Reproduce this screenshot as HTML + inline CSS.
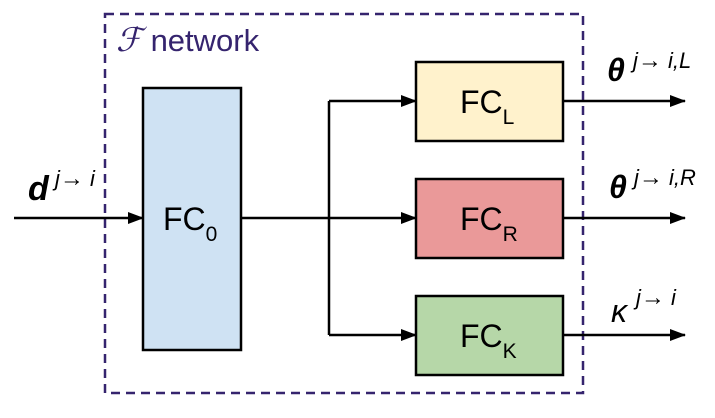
<!DOCTYPE html>
<html><head><style>body{margin:0;background:#fff}</style></head><body>
<svg width="715" height="413" viewBox="0 0 715 413" xmlns="http://www.w3.org/2000/svg" font-family="Liberation Sans, sans-serif">
<defs><marker id="a" markerWidth="16" markerHeight="12" refX="15" refY="6" orient="auto" markerUnits="userSpaceOnUse"><path d="M0,0L16,6L0,12z" fill="#000"/></marker></defs>
<rect x="105" y="14" width="478" height="379" fill="none" stroke="#35246e" stroke-width="2.5" stroke-dasharray="9,6"/>
<text x="116" y="51" font-size="31" fill="#35246e"><tspan font-family="Liberation Serif, serif" font-style="italic" font-size="33">ℱ</tspan> network</text>
<rect x="143" y="88" width="98" height="262" fill="#cfe2f3" stroke="#000" stroke-width="2.5"/>
<text x="163" y="230" font-size="32">FC<tspan font-size="21" dy="11">0</tspan></text>
<g stroke="#000" stroke-width="2.5" fill="none">
<line x1="14" y1="218" x2="143" y2="218" marker-end="url(#a)"/>
<line x1="241" y1="218" x2="329" y2="218"/>
<line x1="329" y1="101" x2="329" y2="335"/>
<line x1="329" y1="101" x2="416" y2="101" marker-end="url(#a)"/>
<line x1="329" y1="218" x2="416" y2="218" marker-end="url(#a)"/>
<line x1="329" y1="335" x2="416" y2="335" marker-end="url(#a)"/>
<line x1="563" y1="101" x2="685" y2="101" marker-end="url(#a)"/>
<line x1="563" y1="218" x2="685" y2="218" marker-end="url(#a)"/>
<line x1="563" y1="335" x2="685" y2="335" marker-end="url(#a)"/>
</g>
<rect x="416" y="62" width="147" height="79" fill="#fff2cc" stroke="#000" stroke-width="2.5"/>
<rect x="416" y="179" width="147" height="79" fill="#ea9999" stroke="#000" stroke-width="2.5"/>
<rect x="416" y="296" width="147" height="79" fill="#b6d7a8" stroke="#000" stroke-width="2.5"/>
<text x="460" y="113" font-size="32">FC<tspan font-size="21" dy="11">L</tspan></text>
<text x="460" y="230" font-size="32">FC<tspan font-size="21" dy="11">R</tspan></text>
<text x="460" y="347" font-size="32">FC<tspan font-size="21" dy="11">K</tspan></text>
<text x="28" y="200" font-size="34" font-weight="bold" font-style="italic">d</text>
<text x="55" y="186" font-size="22" font-style="italic">j<tspan font-style="normal" font-size="24">→</tspan> i</text>
<text x="607" y="81" font-size="32" font-weight="bold" font-style="italic">θ</text>
<text x="633" y="68" font-size="22" font-style="italic">j<tspan font-style="normal" font-size="24">→</tspan> i,L</text>
<text x="609" y="198" font-size="32" font-weight="bold" font-style="italic">θ</text>
<text x="634" y="185" font-size="22" font-style="italic">j<tspan font-style="normal" font-size="24">→</tspan> i,R</text>
<text x="611" y="322" font-size="32" font-style="italic">κ</text>
<text x="636" y="305" font-size="22" font-style="italic">j<tspan font-style="normal" font-size="24">→</tspan> i</text>
</svg>
</body></html>
